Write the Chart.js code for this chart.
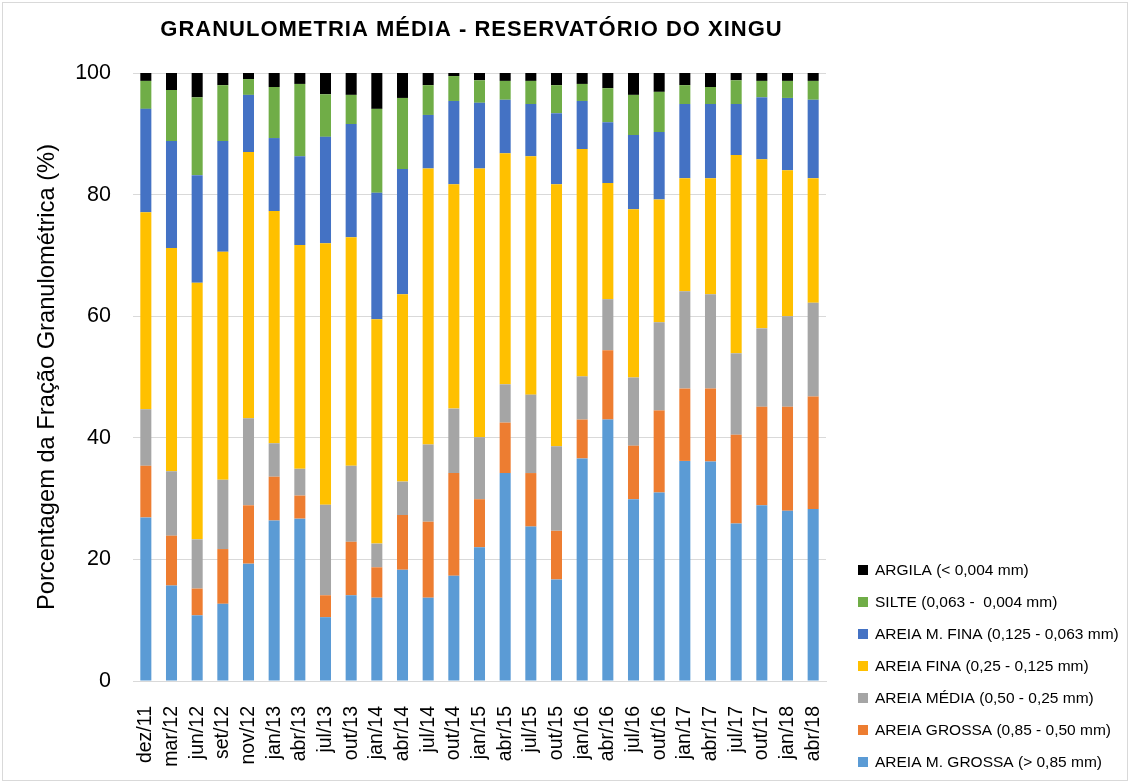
<!DOCTYPE html>
<html lang="pt">
<head>
  <meta charset="UTF-8">
  <title>Granulometria Média - Reservatório do Xingu</title>
  <style>
    body {
      margin: 0;
      background: #fff;
    }
    .frame {
      position: absolute;
      left: 2px;
      top: 2px;
      width: 1126px;
      height: 779px;
      border: 1px solid #d9d9d9;
      box-sizing: border-box;
    }
    canvas {
      position: absolute;
      left: 0;
      top: 0;
    }
  </style>
  <script src="https://cdn.jsdelivr.net/npm/chart.js"></script>
</head>
<body>
  <div class="frame"></div>
  <canvas id="chart" width="1130" height="783"></canvas>
  <script>
    const categories = ['dez/11', 'mar/12', 'jun/12', 'set/12', 'nov/12', 'jan/13', 'abr/13', 'jul/13', 'out/13',
      'jan/14', 'abr/14', 'jul/14', 'out/14', 'jan/15', 'abr/15', 'jul/15', 'out/15', 'jan/16', 'abr/16',
      'jul/16', 'out/16', 'jan/17', 'abr/17', 'jul/17', 'out/17', 'jan/18', 'abr/18'];

    // values in % (stacked from bottom to top)
    const areiaMGrossa = [26.9, 15.7, 10.8, 12.7, 19.3, 26.4, 26.7, 10.5, 14.1, 13.7, 18.3, 13.7, 17.3, 22.0,
      34.2, 25.4, 16.7, 36.6, 43.0, 29.9, 31.0, 36.2, 36.1, 25.9, 28.9, 28.0, 28.3];
    const areiaGrossa = [8.5, 8.2, 4.4, 9.0, 9.6, 7.2, 3.8, 3.6, 8.8, 5.0, 9.0, 12.5, 16.9, 7.9,
      8.3, 8.8, 8.0, 6.4, 11.4, 8.8, 13.5, 11.9, 12.0, 14.6, 16.2, 17.1, 18.5];
    const areiaMedia = [9.3, 10.6, 8.1, 11.4, 14.3, 5.5, 4.4, 14.9, 12.5, 3.9, 5.5, 12.7, 10.6, 10.2,
      6.3, 12.9, 13.9, 7.1, 8.4, 11.2, 14.5, 16.0, 15.5, 13.4, 12.9, 14.9, 15.4];
    const areiaFina = [32.4, 36.7, 42.2, 37.5, 43.8, 38.2, 36.8, 43.0, 37.6, 36.9, 30.8, 45.4, 36.9, 44.2,
      38.0, 39.2, 43.1, 37.4, 19.1, 27.7, 20.2, 18.6, 19.1, 32.6, 27.8, 24.0, 20.5];
    const areiaMFina = [17.0, 17.6, 17.7, 18.2, 9.4, 12.0, 14.6, 17.5, 18.6, 20.8, 20.6, 8.8, 13.7, 10.8,
      8.8, 8.6, 11.7, 7.9, 10.0, 12.2, 11.1, 12.2, 12.2, 8.4, 10.2, 11.9, 12.9];
    const silte = [4.6, 8.4, 12.8, 9.2, 2.6, 8.4, 11.9, 7.0, 4.8, 13.8, 11.7, 4.9, 4.1, 3.7,
      3.1, 3.8, 4.6, 2.8, 5.6, 6.6, 6.6, 3.1, 2.8, 3.9, 2.7, 2.8, 3.1];
    const argila = [1.3, 2.8, 4.0, 2.0, 1.0, 2.3, 1.8, 3.5, 3.6, 5.9, 4.1, 2.0, 0.5, 1.2,
      1.3, 1.3, 2.0, 1.8, 2.5, 3.6, 3.1, 2.0, 2.3, 1.2, 1.3, 1.3, 1.3];

    const yTicks = [0, 20, 40, 60, 80, 100];

    const series = [
      { label: 'AREIA M. GROSSA (> 0,85 mm)', data: areiaMGrossa, color: '#5b9bd5' },
      { label: 'AREIA GROSSA (0,85 - 0,50 mm)', data: areiaGrossa, color: '#ed7d31' },
      { label: 'AREIA MÉDIA (0,50 - 0,25 mm)', data: areiaMedia, color: '#a5a5a5' },
      { label: 'AREIA FINA (0,25 - 0,125 mm)', data: areiaFina, color: '#ffc000' },
      { label: 'AREIA M. FINA (0,125 - 0,063 mm)', data: areiaMFina, color: '#4472c4' },
      { label: 'SILTE (0,063 -  0,004 mm)', data: silte, color: '#70ad47' },
      { label: 'ARGILA (< 0,004 mm)', data: argila, color: '#000000' }
    ];

    const FONT = '"Liberation Sans", Arial, sans-serif';

    // title sits a bit left of the plot centre in the original
    const titlePlugin = {
      id: 'plotTitle',
      afterDraw(chart) {
        const { ctx, chartArea } = chart;
        ctx.save();
        ctx.font = 'bold 22px ' + FONT;
        ctx.letterSpacing = '1px';
        ctx.fillStyle = '#000';
        ctx.textAlign = 'center';
        ctx.textBaseline = 'middle';
        ctx.fillText('GRANULOMETRIA MÉDIA - RESERVATÓRIO DO XINGU', (chartArea.left + chartArea.right) / 2 - 8, 30);
        ctx.restore();
      }
    };

    // legend in the lower right corner, top item = last dataset
    const sideLegend = {
      id: 'sideLegend',
      afterDraw(chart) {
        const { ctx, chartArea } = chart;
        const sets = chart.data.datasets.slice().reverse();
        const x = chartArea.right + 32;
        ctx.save();
        ctx.font = '15.5px ' + FONT;
        ctx.textBaseline = 'middle';
        ctx.textAlign = 'left';
        sets.forEach((ds, i) => {
          const y = 570 + i * 32;
          ctx.fillStyle = ds.backgroundColor;
          ctx.fillRect(x, y - 5, 10, 10);
          ctx.fillStyle = '#000';
          ctx.fillText(ds.label, x + 17, y + 1);
        });
        ctx.restore();
      }
    };

    Chart.defaults.font.family = FONT;
    Chart.defaults.color = '#000';

    new Chart(document.getElementById('chart'), {
      type: 'bar',
      data: {
        labels: categories,
        datasets: series.map(s => ({
          label: s.label,
          data: s.data,
          backgroundColor: s.color,
          borderWidth: 0,
          barPercentage: 0.43,
          categoryPercentage: 1
        }))
      },
      options: {
        responsive: false,
        animation: false,
        layout: {
          padding: { left: 33, top: 73, right: 304, bottom: 0 }
        },
        plugins: {
          legend: { display: false },
          tooltip: { enabled: false }
        },
        scales: {
          x: {
            stacked: true,
            grid: { display: false },
            border: { color: '#d9d9d9' },
            ticks: {
              minRotation: 90,
              maxRotation: 90,
              autoSkip: false,
              padding: 17,
              font: { size: 19.5 }
            },
            afterFit(scale) {
              scale.height = 102;
            }
          },
          y: {
            stacked: true,
            min: 0,
            max: 100,
            afterBuildTicks(axis) {
              axis.ticks = yTicks.map(v => ({ value: v }));
            },
            afterFit(scale) {
              scale.width = 100;
            },
            grid: { color: '#d9d9d9', drawTicks: false },
            border: { display: false },
            ticks: {
              padding: 22,
              font: { size: 21.5 }
            },
            title: {
              display: true,
              text: 'Porcentagem da Fração Granulométrica (%)',
              font: { size: 23.7 },
              padding: 0
            }
          }
        }
      },
      plugins: [titlePlugin, sideLegend]
    });
  </script>
</body>
</html>
